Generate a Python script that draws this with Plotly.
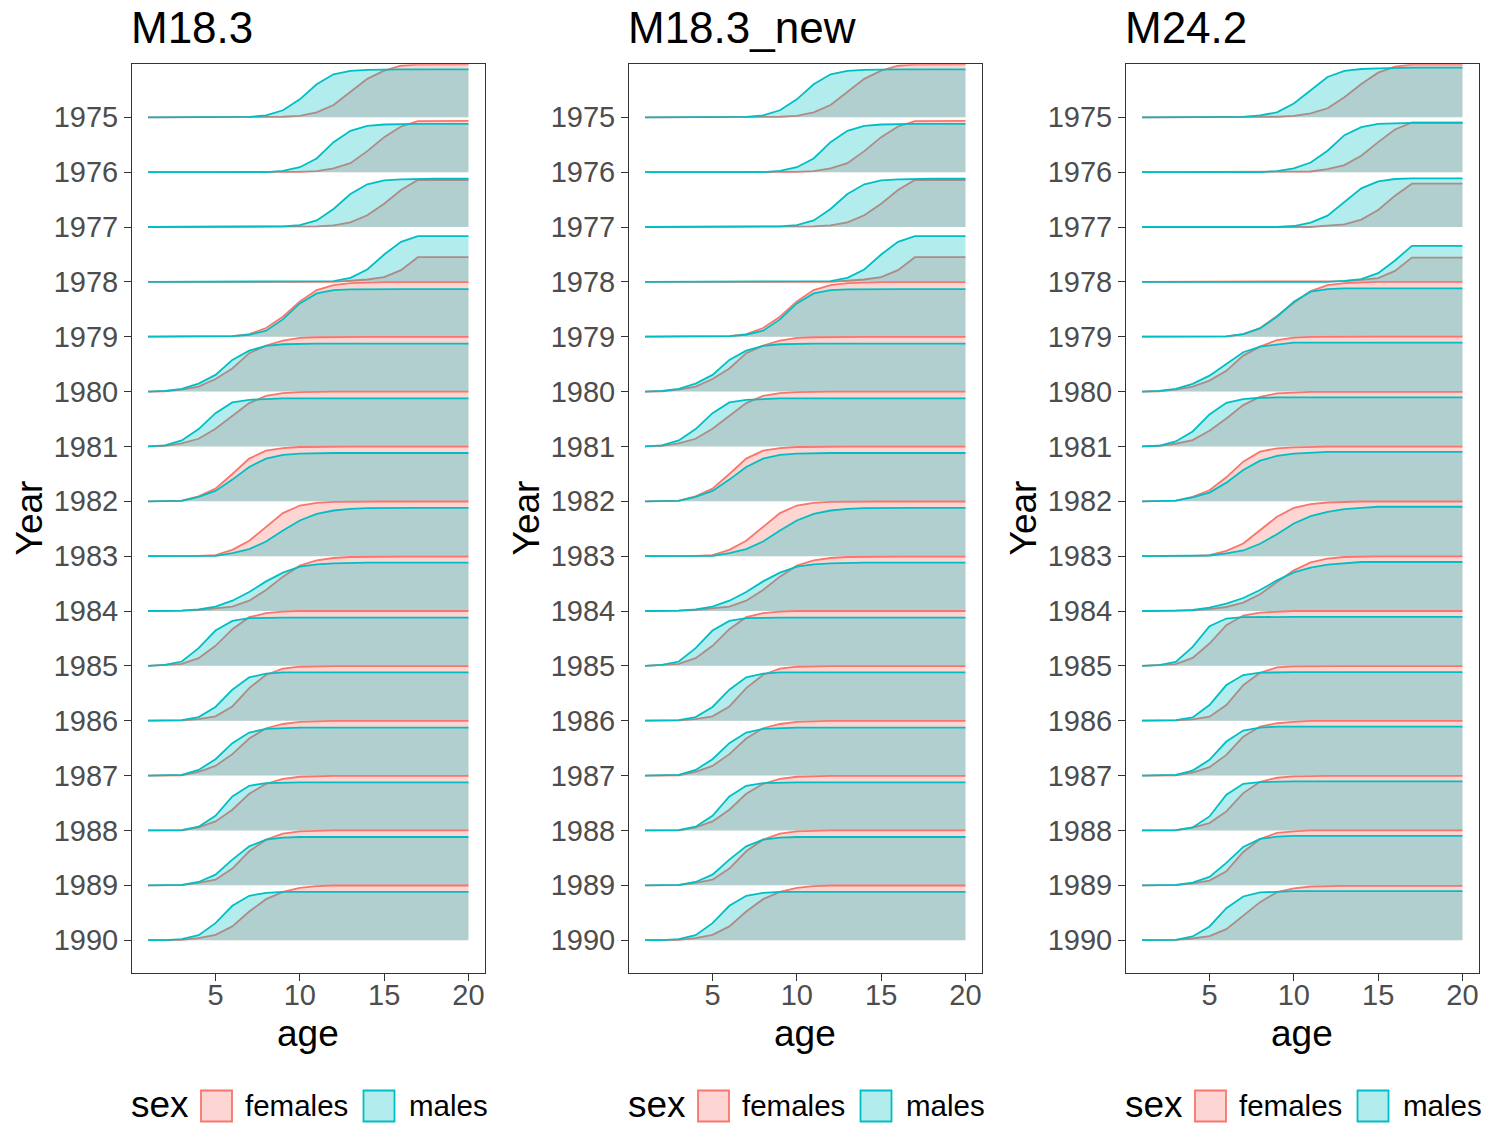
import plotly.graph_objects as go

# ---------------------------------------------------------------
# Proportion mature at age, by year and sex, for three model runs
# ---------------------------------------------------------------
AGES = list(range(1, 21))
YEARS = list(range(1975, 1991))
MODELS = ["M18.3", "M18.3_new", "M24.2"]
SEXES = ["females", "males"]

# rows follow YEARS (1975 ... 1990), columns follow AGES (1 ... 20)
m18_3_females = [
    [0, 0, 0, 0, 0, 0, 0, 0, 0.01, 0.024, 0.09, 0.225, 0.468, 0.70, 0.85, 0.94, 0.96, 0.966, 0.966, 0.966],
    [0, 0, 0, 0, 0, 0, 0, 0, 0, 0.006, 0.018, 0.067, 0.164, 0.383, 0.638, 0.832, 0.93, 0.936, 0.936, 0.936],
    [0, 0, 0, 0, 0, 0, 0, 0, 0, 0, 0.012, 0.03, 0.085, 0.213, 0.425, 0.674, 0.857, 0.857, 0.857, 0.857],
    [0, 0, 0, 0, 0, 0, 0, 0, 0, 0, 0, 0, 0.02, 0.043, 0.085, 0.213, 0.45, 0.45, 0.45, 0.45],
    [0, 0, 0, 0, 0, 0.012, 0.049, 0.158, 0.365, 0.644, 0.85, 0.94, 0.978, 0.99, 0.996, 0.996, 0.996, 0.996, 0.996, 0.996],
    [0, 0.006, 0.036, 0.09, 0.23, 0.42, 0.70, 0.838, 0.93, 0.978, 0.99, 0.996, 0.996, 0.996, 0.996, 0.996, 0.996, 0.996, 0.996, 0.996],
    [0, 0.012, 0.055, 0.14, 0.322, 0.559, 0.79, 0.923, 0.97, 0.99, 1.0, 1.0, 1.0, 1.0, 1.0, 1.0, 1.0, 1.0, 1.0, 1.0],
    [0, 0.003, 0.012, 0.09, 0.23, 0.498, 0.778, 0.923, 0.97, 0.99, 0.996, 0.996, 0.996, 0.996, 0.996, 0.996, 0.996, 0.996, 0.996, 0.996],
    [0, 0, 0, 0.006, 0.018, 0.115, 0.28, 0.54, 0.784, 0.923, 0.97, 0.99, 0.996, 0.996, 0.996, 0.996, 0.996, 0.996, 0.996, 0.996],
    [0, 0, 0.006, 0.018, 0.043, 0.079, 0.188, 0.383, 0.626, 0.826, 0.923, 0.966, 0.984, 0.99, 0.99, 0.99, 0.99, 0.99, 0.99, 0.99],
    [0, 0.012, 0.036, 0.14, 0.365, 0.668, 0.887, 0.96, 0.99, 1.0, 1.0, 1.0, 1.0, 1.0, 1.0, 1.0, 1.0, 1.0, 1.0, 1.0],
    [0, 0, 0.006, 0.03, 0.079, 0.26, 0.595, 0.838, 0.948, 0.984, 0.996, 0.996, 0.996, 0.996, 0.996, 0.996, 0.996, 0.996, 0.996, 0.996],
    [0, 0, 0.006, 0.067, 0.176, 0.39, 0.674, 0.863, 0.94, 0.978, 0.99, 0.996, 0.996, 0.996, 0.996, 0.996, 0.996, 0.996, 0.996, 0.996],
    [0, 0, 0.003, 0.055, 0.164, 0.377, 0.668, 0.85, 0.94, 0.978, 0.99, 0.996, 0.996, 0.996, 0.996, 0.996, 0.996, 0.996, 0.996, 0.996],
    [0, 0, 0.003, 0.043, 0.103, 0.304, 0.62, 0.832, 0.94, 0.984, 0.996, 1.0, 1.0, 1.0, 1.0, 1.0, 1.0, 1.0, 1.0, 1.0],
    [0, 0, 0.006, 0.036, 0.097, 0.25, 0.522, 0.747, 0.88, 0.954, 0.984, 0.996, 0.996, 0.996, 0.996, 0.996, 0.996, 0.996, 0.996, 0.996],
]

m18_3_males = [
    [0, 0, 0, 0, 0, 0, 0.006, 0.036, 0.128, 0.328, 0.601, 0.784, 0.845, 0.863, 0.875, 0.875, 0.875, 0.875, 0.875, 0.875],
    [0, 0, 0, 0, 0, 0, 0, 0, 0.024, 0.09, 0.25, 0.547, 0.753, 0.845, 0.869, 0.88, 0.88, 0.88, 0.88, 0.88],
    [0, 0, 0, 0, 0, 0, 0, 0, 0.012, 0.036, 0.12, 0.328, 0.60, 0.778, 0.85, 0.869, 0.88, 0.88, 0.88, 0.88],
    [0, 0, 0, 0, 0, 0, 0, 0, 0, 0, 0, 0.012, 0.073, 0.225, 0.498, 0.729, 0.832, 0.832, 0.832, 0.832],
    [0, 0, 0, 0, 0, 0.012, 0.036, 0.109, 0.316, 0.607, 0.79, 0.85, 0.863, 0.869, 0.869, 0.869, 0.869, 0.869, 0.869, 0.869],
    [0, 0.012, 0.049, 0.146, 0.304, 0.577, 0.747, 0.832, 0.863, 0.875, 0.875, 0.875, 0.875, 0.875, 0.875, 0.875, 0.875, 0.875, 0.875, 0.875],
    [0, 0.018, 0.109, 0.316, 0.607, 0.802, 0.85, 0.869, 0.875, 0.875, 0.875, 0.875, 0.875, 0.875, 0.875, 0.875, 0.875, 0.875, 0.875, 0.875],
    [0, 0.003, 0.006, 0.079, 0.188, 0.395, 0.626, 0.778, 0.845, 0.869, 0.88, 0.88, 0.88, 0.88, 0.88, 0.88, 0.88, 0.88, 0.88, 0.88],
    [0, 0, 0, 0.003, 0.006, 0.055, 0.128, 0.267, 0.468, 0.65, 0.77, 0.832, 0.863, 0.875, 0.88, 0.88, 0.88, 0.88, 0.88, 0.88],
    [0, 0, 0.006, 0.03, 0.079, 0.188, 0.346, 0.54, 0.70, 0.808, 0.85, 0.869, 0.88, 0.88, 0.88, 0.88, 0.88, 0.88, 0.88, 0.88],
    [0, 0.018, 0.079, 0.322, 0.644, 0.82, 0.869, 0.88, 0.88, 0.88, 0.88, 0.88, 0.88, 0.88, 0.88, 0.88, 0.88, 0.88, 0.88, 0.88],
    [0, 0, 0.012, 0.067, 0.25, 0.565, 0.79, 0.857, 0.88, 0.88, 0.88, 0.88, 0.88, 0.88, 0.88, 0.88, 0.88, 0.88, 0.88, 0.88],
    [0, 0, 0.012, 0.103, 0.298, 0.59, 0.784, 0.85, 0.869, 0.875, 0.875, 0.875, 0.875, 0.875, 0.875, 0.875, 0.875, 0.875, 0.875, 0.875],
    [0, 0, 0.006, 0.067, 0.267, 0.62, 0.814, 0.863, 0.875, 0.875, 0.875, 0.875, 0.875, 0.875, 0.875, 0.875, 0.875, 0.875, 0.875, 0.875],
    [0, 0, 0.006, 0.06, 0.194, 0.468, 0.71, 0.832, 0.869, 0.88, 0.88, 0.88, 0.88, 0.88, 0.88, 0.88, 0.88, 0.88, 0.88, 0.88],
    [0, 0, 0.018, 0.091, 0.31, 0.626, 0.808, 0.863, 0.88, 0.88, 0.88, 0.88, 0.88, 0.88, 0.88, 0.88, 0.88, 0.88, 0.88, 0.88],
]

# the "_new" run gives the same ogives as M18.3
m18_3_new_females = [
    [0, 0, 0, 0, 0, 0, 0, 0, 0.01, 0.024, 0.09, 0.225, 0.468, 0.70, 0.85, 0.94, 0.96, 0.966, 0.966, 0.966],
    [0, 0, 0, 0, 0, 0, 0, 0, 0, 0.006, 0.018, 0.067, 0.164, 0.383, 0.638, 0.832, 0.93, 0.936, 0.936, 0.936],
    [0, 0, 0, 0, 0, 0, 0, 0, 0, 0, 0.012, 0.03, 0.085, 0.213, 0.425, 0.674, 0.857, 0.857, 0.857, 0.857],
    [0, 0, 0, 0, 0, 0, 0, 0, 0, 0, 0, 0, 0.02, 0.043, 0.085, 0.213, 0.45, 0.45, 0.45, 0.45],
    [0, 0, 0, 0, 0, 0.012, 0.049, 0.158, 0.365, 0.644, 0.85, 0.94, 0.978, 0.99, 0.996, 0.996, 0.996, 0.996, 0.996, 0.996],
    [0, 0.006, 0.036, 0.09, 0.23, 0.42, 0.70, 0.838, 0.93, 0.978, 0.99, 0.996, 0.996, 0.996, 0.996, 0.996, 0.996, 0.996, 0.996, 0.996],
    [0, 0.012, 0.055, 0.14, 0.322, 0.559, 0.79, 0.923, 0.97, 0.99, 1.0, 1.0, 1.0, 1.0, 1.0, 1.0, 1.0, 1.0, 1.0, 1.0],
    [0, 0.003, 0.012, 0.09, 0.23, 0.498, 0.778, 0.923, 0.97, 0.99, 0.996, 0.996, 0.996, 0.996, 0.996, 0.996, 0.996, 0.996, 0.996, 0.996],
    [0, 0, 0, 0.006, 0.018, 0.115, 0.28, 0.54, 0.784, 0.923, 0.97, 0.99, 0.996, 0.996, 0.996, 0.996, 0.996, 0.996, 0.996, 0.996],
    [0, 0, 0.006, 0.018, 0.043, 0.079, 0.188, 0.383, 0.626, 0.826, 0.923, 0.966, 0.984, 0.99, 0.99, 0.99, 0.99, 0.99, 0.99, 0.99],
    [0, 0.012, 0.036, 0.14, 0.365, 0.668, 0.887, 0.96, 0.99, 1.0, 1.0, 1.0, 1.0, 1.0, 1.0, 1.0, 1.0, 1.0, 1.0, 1.0],
    [0, 0, 0.006, 0.03, 0.079, 0.26, 0.595, 0.838, 0.948, 0.984, 0.996, 0.996, 0.996, 0.996, 0.996, 0.996, 0.996, 0.996, 0.996, 0.996],
    [0, 0, 0.006, 0.067, 0.176, 0.39, 0.674, 0.863, 0.94, 0.978, 0.99, 0.996, 0.996, 0.996, 0.996, 0.996, 0.996, 0.996, 0.996, 0.996],
    [0, 0, 0.003, 0.055, 0.164, 0.377, 0.668, 0.85, 0.94, 0.978, 0.99, 0.996, 0.996, 0.996, 0.996, 0.996, 0.996, 0.996, 0.996, 0.996],
    [0, 0, 0.003, 0.043, 0.103, 0.304, 0.62, 0.832, 0.94, 0.984, 0.996, 1.0, 1.0, 1.0, 1.0, 1.0, 1.0, 1.0, 1.0, 1.0],
    [0, 0, 0.006, 0.036, 0.097, 0.25, 0.522, 0.747, 0.88, 0.954, 0.984, 0.996, 0.996, 0.996, 0.996, 0.996, 0.996, 0.996, 0.996, 0.996],
]

m18_3_new_males = [
    [0, 0, 0, 0, 0, 0, 0.006, 0.036, 0.128, 0.328, 0.601, 0.784, 0.845, 0.863, 0.875, 0.875, 0.875, 0.875, 0.875, 0.875],
    [0, 0, 0, 0, 0, 0, 0, 0, 0.024, 0.09, 0.25, 0.547, 0.753, 0.845, 0.869, 0.88, 0.88, 0.88, 0.88, 0.88],
    [0, 0, 0, 0, 0, 0, 0, 0, 0.012, 0.036, 0.12, 0.328, 0.60, 0.778, 0.85, 0.869, 0.88, 0.88, 0.88, 0.88],
    [0, 0, 0, 0, 0, 0, 0, 0, 0, 0, 0, 0.012, 0.073, 0.225, 0.498, 0.729, 0.832, 0.832, 0.832, 0.832],
    [0, 0, 0, 0, 0, 0.012, 0.036, 0.109, 0.316, 0.607, 0.79, 0.85, 0.863, 0.869, 0.869, 0.869, 0.869, 0.869, 0.869, 0.869],
    [0, 0.012, 0.049, 0.146, 0.304, 0.577, 0.747, 0.832, 0.863, 0.875, 0.875, 0.875, 0.875, 0.875, 0.875, 0.875, 0.875, 0.875, 0.875, 0.875],
    [0, 0.018, 0.109, 0.316, 0.607, 0.802, 0.85, 0.869, 0.875, 0.875, 0.875, 0.875, 0.875, 0.875, 0.875, 0.875, 0.875, 0.875, 0.875, 0.875],
    [0, 0.003, 0.006, 0.079, 0.188, 0.395, 0.626, 0.778, 0.845, 0.869, 0.88, 0.88, 0.88, 0.88, 0.88, 0.88, 0.88, 0.88, 0.88, 0.88],
    [0, 0, 0, 0.003, 0.006, 0.055, 0.128, 0.267, 0.468, 0.65, 0.77, 0.832, 0.863, 0.875, 0.88, 0.88, 0.88, 0.88, 0.88, 0.88],
    [0, 0, 0.006, 0.03, 0.079, 0.188, 0.346, 0.54, 0.70, 0.808, 0.85, 0.869, 0.88, 0.88, 0.88, 0.88, 0.88, 0.88, 0.88, 0.88],
    [0, 0.018, 0.079, 0.322, 0.644, 0.82, 0.869, 0.88, 0.88, 0.88, 0.88, 0.88, 0.88, 0.88, 0.88, 0.88, 0.88, 0.88, 0.88, 0.88],
    [0, 0, 0.012, 0.067, 0.25, 0.565, 0.79, 0.857, 0.88, 0.88, 0.88, 0.88, 0.88, 0.88, 0.88, 0.88, 0.88, 0.88, 0.88, 0.88],
    [0, 0, 0.012, 0.103, 0.298, 0.59, 0.784, 0.85, 0.869, 0.875, 0.875, 0.875, 0.875, 0.875, 0.875, 0.875, 0.875, 0.875, 0.875, 0.875],
    [0, 0, 0.006, 0.067, 0.267, 0.62, 0.814, 0.863, 0.875, 0.875, 0.875, 0.875, 0.875, 0.875, 0.875, 0.875, 0.875, 0.875, 0.875, 0.875],
    [0, 0, 0.006, 0.06, 0.194, 0.468, 0.71, 0.832, 0.869, 0.88, 0.88, 0.88, 0.88, 0.88, 0.88, 0.88, 0.88, 0.88, 0.88, 0.88],
    [0, 0, 0.018, 0.091, 0.31, 0.626, 0.808, 0.863, 0.88, 0.88, 0.88, 0.88, 0.88, 0.88, 0.88, 0.88, 0.88, 0.88, 0.88, 0.88],
]

m24_2_females = [
    [0, 0, 0, 0, 0, 0, 0, 0, 0.01, 0.024, 0.073, 0.164, 0.365, 0.608, 0.814, 0.923, 0.96, 0.96, 0.96, 0.96],
    [0, 0, 0, 0, 0, 0, 0, 0, 0, 0, 0.012, 0.055, 0.128, 0.298, 0.547, 0.778, 0.905, 0.905, 0.905, 0.905],
    [0, 0, 0, 0, 0, 0, 0, 0, 0, 0, 0, 0.024, 0.049, 0.134, 0.31, 0.571, 0.79, 0.79, 0.79, 0.79],
    [0, 0, 0, 0, 0, 0, 0, 0, 0, 0, 0, 0, 0.012, 0.036, 0.067, 0.20, 0.443, 0.443, 0.443, 0.443],
    [0, 0, 0, 0, 0, 0.006, 0.049, 0.158, 0.377, 0.62, 0.832, 0.94, 0.978, 0.99, 1.0, 1.0, 1.0, 1.0, 1.0, 1.0],
    [0, 0.006, 0.036, 0.09, 0.20, 0.377, 0.656, 0.82, 0.94, 0.984, 0.996, 1.0, 1.0, 1.0, 1.0, 1.0, 1.0, 1.0, 1.0, 1.0],
    [0, 0.012, 0.049, 0.115, 0.285, 0.51, 0.753, 0.905, 0.966, 0.984, 0.996, 0.996, 0.996, 0.996, 0.996, 0.996, 0.996, 0.996, 0.996, 0.996],
    [0, 0.003, 0.012, 0.079, 0.20, 0.437, 0.723, 0.905, 0.966, 0.984, 0.996, 0.996, 0.996, 0.996, 0.996, 0.996, 0.996, 0.996, 0.996, 0.996],
    [0, 0, 0, 0.006, 0.018, 0.097, 0.23, 0.474, 0.717, 0.88, 0.948, 0.978, 0.99, 0.996, 0.996, 0.996, 0.996, 0.996, 0.996, 0.996],
    [0, 0, 0.003, 0.012, 0.036, 0.073, 0.152, 0.304, 0.529, 0.741, 0.887, 0.954, 0.984, 0.996, 0.996, 0.996, 0.996, 0.996, 0.996, 0.996],
    [0, 0.012, 0.03, 0.146, 0.407, 0.741, 0.917, 0.972, 0.99, 1.0, 1.0, 1.0, 1.0, 1.0, 1.0, 1.0, 1.0, 1.0, 1.0, 1.0],
    [0, 0, 0.006, 0.024, 0.073, 0.286, 0.65, 0.875, 0.972, 0.99, 0.996, 0.996, 0.996, 0.996, 0.996, 0.996, 0.996, 0.996, 0.996, 0.996],
    [0, 0, 0.006, 0.055, 0.152, 0.377, 0.71, 0.893, 0.954, 0.978, 0.996, 0.996, 0.996, 0.996, 0.996, 0.996, 0.996, 0.996, 0.996, 0.996],
    [0, 0, 0.003, 0.049, 0.134, 0.346, 0.68, 0.887, 0.96, 0.984, 0.996, 0.996, 0.996, 0.996, 0.996, 0.996, 0.996, 0.996, 0.996, 0.996],
    [0, 0, 0.003, 0.036, 0.085, 0.255, 0.608, 0.845, 0.954, 0.984, 1.0, 1.0, 1.0, 1.0, 1.0, 1.0, 1.0, 1.0, 1.0, 1.0],
    [0, 0, 0.003, 0.03, 0.073, 0.20, 0.443, 0.693, 0.875, 0.942, 0.978, 0.99, 0.99, 0.99, 0.99, 0.99, 0.99, 0.99, 0.99, 0.99],
]

m24_2_males = [
    [0, 0, 0, 0, 0, 0, 0.006, 0.036, 0.09, 0.25, 0.50, 0.735, 0.845, 0.88, 0.893, 0.905, 0.905, 0.905, 0.905, 0.905],
    [0, 0, 0, 0, 0, 0, 0, 0, 0.018, 0.067, 0.176, 0.39, 0.674, 0.82, 0.88, 0.893, 0.90, 0.90, 0.90, 0.90],
    [0, 0, 0, 0, 0, 0, 0, 0, 0, 0.018, 0.079, 0.207, 0.45, 0.705, 0.832, 0.875, 0.887, 0.887, 0.887, 0.887],
    [0, 0, 0, 0, 0, 0, 0, 0, 0, 0, 0, 0, 0.018, 0.049, 0.158, 0.389, 0.656, 0.656, 0.656, 0.656],
    [0, 0, 0, 0, 0, 0.006, 0.049, 0.152, 0.365, 0.638, 0.82, 0.869, 0.88, 0.88, 0.88, 0.88, 0.88, 0.88, 0.88, 0.88],
    [0, 0.012, 0.049, 0.14, 0.29, 0.50, 0.717, 0.82, 0.863, 0.893, 0.893, 0.893, 0.893, 0.893, 0.893, 0.893, 0.893, 0.893, 0.893, 0.893],
    [0, 0.012, 0.091, 0.273, 0.583, 0.796, 0.863, 0.887, 0.893, 0.893, 0.893, 0.893, 0.893, 0.893, 0.893, 0.893, 0.893, 0.893, 0.893, 0.893],
    [0, 0.003, 0.012, 0.073, 0.158, 0.34, 0.571, 0.74, 0.826, 0.869, 0.887, 0.90, 0.90, 0.90, 0.90, 0.90, 0.90, 0.90, 0.90, 0.90],
    [0, 0, 0, 0.003, 0.012, 0.049, 0.103, 0.225, 0.40, 0.595, 0.73, 0.808, 0.857, 0.88, 0.90, 0.90, 0.90, 0.90, 0.90, 0.90],
    [0, 0, 0.006, 0.018, 0.06, 0.134, 0.237, 0.383, 0.559, 0.705, 0.79, 0.845, 0.875, 0.893, 0.893, 0.893, 0.893, 0.893, 0.893, 0.893],
    [0, 0.012, 0.073, 0.346, 0.723, 0.863, 0.887, 0.893, 0.893, 0.893, 0.893, 0.893, 0.893, 0.893, 0.893, 0.893, 0.893, 0.893, 0.893, 0.893],
    [0, 0, 0.012, 0.06, 0.286, 0.65, 0.832, 0.875, 0.887, 0.887, 0.887, 0.887, 0.887, 0.887, 0.887, 0.887, 0.887, 0.887, 0.887, 0.887],
    [0, 0, 0.012, 0.091, 0.286, 0.62, 0.82, 0.875, 0.893, 0.893, 0.893, 0.893, 0.893, 0.893, 0.893, 0.893, 0.893, 0.893, 0.893, 0.893],
    [0, 0, 0.006, 0.055, 0.255, 0.65, 0.85, 0.88, 0.893, 0.893, 0.893, 0.893, 0.893, 0.893, 0.893, 0.893, 0.893, 0.893, 0.893, 0.893],
    [0, 0, 0.006, 0.049, 0.152, 0.407, 0.70, 0.845, 0.887, 0.90, 0.90, 0.90, 0.90, 0.90, 0.90, 0.90, 0.90, 0.90, 0.90, 0.90],
    [0, 0, 0.006, 0.067, 0.25, 0.583, 0.796, 0.869, 0.887, 0.893, 0.893, 0.893, 0.893, 0.893, 0.893, 0.893, 0.893, 0.893, 0.893, 0.893],
]

PANEL_DATA = {
    "M18.3": {"females": m18_3_females, "males": m18_3_males},
    "M18.3_new": {"females": m18_3_new_females, "males": m18_3_new_males},
    "M24.2": {"females": m24_2_females, "males": m24_2_males},
}

# ---------------------------------------------------------------
# Styling
# ---------------------------------------------------------------
W, H = 1489, 1124
FONT = "Liberation Sans, Arial, Helvetica, sans-serif"
LINE_COL = {"females": "#F8766D", "males": "#00BFC4"}
FILL_COL = {"females": "rgba(248,118,109,0.3)", "males": "rgba(0,191,196,0.3)"}
KEY_FILL = {"females": "#FDD6D3", "males": "#B3ECED"}
TICK_GREY = "#4D4D4D"
FRAME = "#333333"

PANEL_LEFT = [132.0, 629.0, 1126.0]   # px
PANEL_W = 352.5
PANEL_TOP, PANEL_BOTTOM = 64.3, 972.5


def px_x(x):
    return x / W


def px_y(y):
    return 1 - y / H


fig = go.Figure()

for p, model in enumerate(MODELS):
    ax = "" if p == 0 else str(p + 1)
    xref, yref = "x" + ax, "y" + ax
    for r, year in enumerate(YEARS):
        base = 1990 - year
        for sex in SEXES:
            vals = PANEL_DATA[model][sex][r]
            top = [base + v for v in vals]
            # filled ridge body down to the year baseline
            fig.add_trace(go.Scatter(
                x=AGES + [AGES[-1], AGES[0]],
                y=top + [base, base],
                mode="lines", fill="toself", fillcolor=FILL_COL[sex],
                line=dict(width=0), hoverinfo="skip", showlegend=False,
                xaxis=xref, yaxis=yref,
            ))
            # upper outline of the ridge
            fig.add_trace(go.Scatter(
                x=AGES, y=top, mode="lines",
                line=dict(color=LINE_COL[sex], width=1.8),
                name=sex, showlegend=False,
                hovertemplate=f"{model} {year} {sex}<br>age %{{x}}<extra></extra>",
                xaxis=xref, yaxis=yref,
            ))

axis_common = dict(
    showgrid=False, zeroline=False, showline=True, mirror=True,
    linecolor=FRAME, linewidth=1.1, ticks="outside", ticklen=7,
    tickwidth=1.1, tickcolor=FRAME,
    tickfont=dict(family=FONT, size=29, color=TICK_GREY),
)

layout = dict(
    width=W, height=H, margin=dict(l=0, r=0, t=0, b=0),
    paper_bgcolor="white", plot_bgcolor="white",
    font=dict(family=FONT),
)

annotations = []
shapes = []
for p, model in enumerate(MODELS):
    ax = "" if p == 0 else str(p + 1)
    left = PANEL_LEFT[p]
    right = left + PANEL_W
    layout["xaxis" + ax] = dict(
        axis_common, domain=[px_x(left), px_x(right)], range=[0.05, 20.95],
        tickvals=[5, 10, 15, 20], anchor="y" + ax, ticklabelstandoff=-10,
    )
    layout["yaxis" + ax] = dict(
        axis_common, domain=[px_y(PANEL_BOTTOM), px_y(PANEL_TOP)],
        range=[-0.59, 15.966],
        tickvals=[1990 - y for y in YEARS], ticktext=[str(y) for y in YEARS],
        anchor="x" + ax,
    )
    # panel title
    annotations.append(dict(
        text=model, x=px_x(left - 3), y=px_y(27), xref="paper", yref="paper",
        xanchor="left", yanchor="middle", showarrow=False,
        font=dict(family=FONT, size=44, color="black"),
    ))
    # axis titles
    annotations.append(dict(
        text="age", x=px_x((left + right) / 2), y=px_y(1033), xref="paper", yref="paper",
        xanchor="center", yanchor="middle", showarrow=False,
        font=dict(family=FONT, size=37, color="black"),
    ))
    annotations.append(dict(
        text="Year", x=px_x(left - 103), y=px_y((PANEL_TOP + PANEL_BOTTOM) / 2),
        xref="paper", yref="paper", textangle=-90,
        xanchor="center", yanchor="middle", showarrow=False,
        font=dict(family=FONT, size=37, color="black"),
    ))
    # legend: title, keys and labels
    off = left - 132
    annotations.append(dict(
        text="sex", x=px_x(129 + off), y=px_y(1104), xref="paper", yref="paper",
        xanchor="left", yanchor="middle", showarrow=False,
        font=dict(family=FONT, size=37, color="black"),
    ))
    for sex, kx, tx in (("females", 201, 243), ("males", 363.5, 407)):
        shapes.append(dict(
            type="rect", xref="paper", yref="paper",
            x0=px_x(kx + off), x1=px_x(kx + 31 + off),
            y0=px_y(1121.5), y1=px_y(1090.5),
            fillcolor=KEY_FILL[sex], line=dict(color=LINE_COL[sex], width=1.8),
        ))
        annotations.append(dict(
            text=sex, x=px_x(tx + off), y=px_y(1105), xref="paper", yref="paper",
            xanchor="left", yanchor="middle", showarrow=False,
            font=dict(family=FONT, size=29.5, color="black"),
        ))

layout["annotations"] = annotations
layout["shapes"] = shapes
fig.update_layout(**layout)

fig.write_html("out.html")
